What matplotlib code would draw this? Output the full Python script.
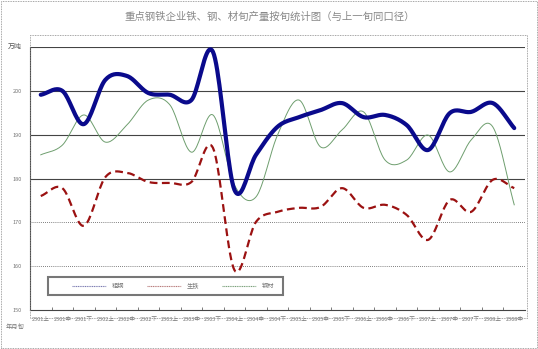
import numpy as np
import matplotlib.pyplot as plt
from matplotlib.patches import Rectangle

plt.rcParams['font.family'] = ['Noto Sans CJK SC', 'DejaVu Sans']

# 旬别
periods = ['2301上', '2301中', '2301下', '2302上', '2302中', '2302下', '2303上', '2303中',
           '2303下', '2304上', '2304中', '2304下', '2305上', '2305中', '2305下', '2306上',
           '2306中', '2306下', '2307上', '2307中', '2307下', '2308上', '2308中']

crude_steel = [199.1, 200.0, 192.4, 202.5, 203.4, 199.5, 199.1, 197.9, 208.9, 177.4, 185.4, 191.8,
               194.0, 195.6, 197.2, 194.0, 194.5, 192.2, 186.5, 194.9, 195.2, 197.2, 191.5]
pig_iron = [176.0, 177.8, 169.2, 180.3, 181.3, 179.2, 179.0, 179.2, 187.0, 159.1, 170.1, 172.4,
            173.3, 173.5, 177.8, 173.3, 174.0, 171.7, 166.0, 175.1, 172.4, 179.7, 177.8]
steel_products = [185.4, 187.6, 194.5, 188.3, 192.2, 197.9, 196.8, 186.0, 194.5, 178.5, 175.8, 189.9,
                  197.9, 187.2, 191.1, 195.2, 184.2, 184.2, 189.9, 181.5, 188.8, 191.8, 174.0]

series_names = ['粗钢', '生铁', '钢材']
yticks = [150, 160, 170, 180, 190, 200, 210]
ytick_labels = ['150', '160', '170', '180', '190', '200', '']


def smooth(x, y, n=20):
    # Catmull-Rom curve through the points (like Excel smoothed lines)
    x = np.asarray(x, float)
    y = np.asarray(y, float)
    px = np.concatenate([[2 * x[0] - x[1]], x, [2 * x[-1] - x[-2]]])
    py = np.concatenate([[2 * y[0] - y[1]], y, [2 * y[-1] - y[-2]]])
    xs, ys = [], []
    t = np.linspace(0, 1, n, endpoint=False)
    for i in range(1, len(px) - 2):
        for arr, out in ((px, xs), (py, ys)):
            p0, p1, p2, p3 = arr[i - 1], arr[i], arr[i + 1], arr[i + 2]
            out.extend(0.5 * (2 * p1 + (-p0 + p2) * t + (2 * p0 - 5 * p1 + 4 * p2 - p3) * t ** 2
                              + (-p0 + 3 * p1 - 3 * p2 + p3) * t ** 3))
    xs.append(x[-1])
    ys.append(y[-1])
    return np.array(xs), np.array(ys)


fig = plt.figure(figsize=(5.38, 3.49), dpi=100)
W, H = 538, 349
ax = fig.add_axes([30 / W, 1 - 310 / H, 495 / W, 263 / H])

x = np.arange(len(periods))
txt = '#777777'

for v in yticks:
    if v in (160, 170):
        ax.axhline(v, color='#555555', lw=0.6, ls=(0, (1, 1.5)), zorder=1)
    elif v != 150:
        ax.axhline(v, color='#444444', lw=0.8, zorder=1)

sx, sy = smooth(x, steel_products)
ax.plot(sx, sy, color='#6e9e6e', lw=0.7, zorder=2)
sx, sy = smooth(x, pig_iron)
ax.plot(sx, sy, color='#9b1111', lw=1.6, ls=(0, (3.5, 2)), zorder=3)
sx, sy = smooth(x, crude_steel)
ax.plot(sx, sy, color='#0a0a8c', lw=3.0, solid_capstyle='round', zorder=4)

ax.set_xlim(-0.5, len(periods) - 0.5)
ax.set_ylim(150, 210)
ax.set_yticks(yticks)
ax.set_yticklabels(ytick_labels)
ax.set_xticks(x)
ax.set_xticklabels(periods)
ax.set_xticks(x[:-1] + 0.5, minor=True)
ax.tick_params(axis='x', which='major', length=0, labelsize=4, colors=txt, pad=5)
ax.tick_params(axis='x', which='minor', length=2, direction='in', color='#666666')
ax.tick_params(axis='y', length=0, labelsize=4, colors=txt, pad=6)
for s in ('top', 'right'):
    ax.spines[s].set_visible(False)
for s in ('left', 'bottom'):
    ax.spines[s].set_color('#444444')
    ax.spines[s].set_linewidth(0.8)

# plot area and chart borders
fig.patches.append(Rectangle((30 / W, 1 - 318 / H), 497 / W, 283 / H, transform=fig.transFigure,
                             fill=False, ec='#888888', lw=0.6, ls=(0, (1, 1))))
fig.patches.append(Rectangle((1 / W, 1 / H), 536 / W, 347 / H, transform=fig.transFigure,
                             fill=False, ec='#888888', lw=0.6, ls=(0, (1, 1))))

fig.text(270 / W, 1 - 17 / H, '重点钢铁企业铁、钢、材旬产量按旬统计图（与上一旬同口径）',
         ha='center', va='center', fontsize=7.5, color='#888888')
fig.text(8 / W, 1 - 47 / H, '万吨', ha='left', va='center', fontsize=5, color='#555555')
fig.text(6 / W, 1 - 327 / H, '年月旬', ha='left', va='center', fontsize=4.5, color=txt)

# legend box
fig.patches.append(Rectangle((48 / W, 1 - 295 / H), 235 / W, 18 / H, transform=fig.transFigure,
                             fill=True, fc='white', ec='#777777', lw=1.5, zorder=5))
leg_cols = ['#7a7ab0', '#b77a7a', '#7aa07a']
for i, (name, c) in enumerate(zip(series_names, leg_cols)):
    x0 = 72 + i * 75
    fig.lines.append(plt.Line2D([x0 / W, (x0 + 34) / W], [1 - 286 / H] * 2, transform=fig.transFigure,
                                color=c, lw=0.8, ls=(0, (1, 0.6)), zorder=6))
    fig.text((x0 + 40) / W, 1 - 286 / H, name, ha='left', va='center', fontsize=4.5,
             color=txt, zorder=6)

fig.savefig('out.png', dpi=100)
